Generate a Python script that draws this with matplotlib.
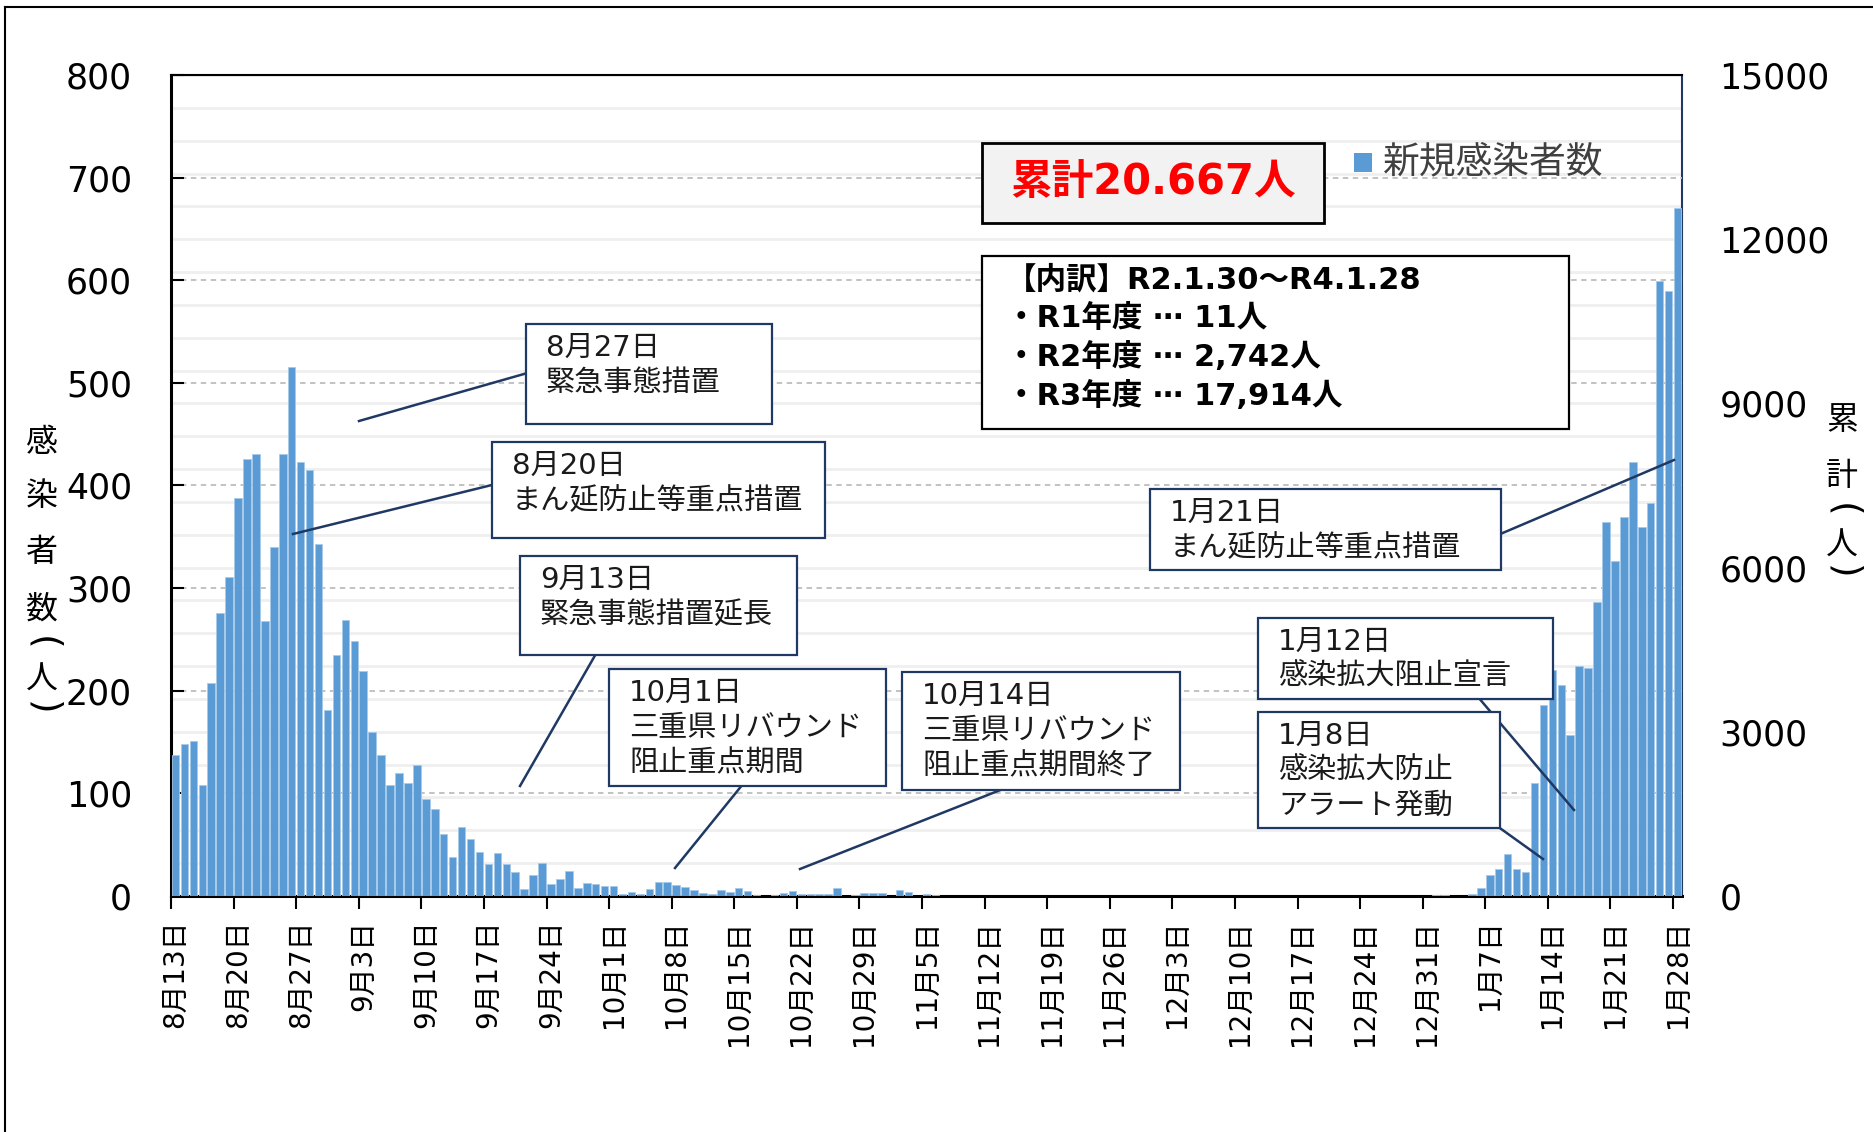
import matplotlib.pyplot as plt
import numpy as np
import pandas as pd
from matplotlib.patches import Rectangle
from matplotlib.lines import Line2D
from matplotlib.ticker import MultipleLocator

plt.rcParams['font.family'] = ['DejaVu Sans', 'Noto Sans CJK JP']

# 新規感染者数 (daily), 2021-08-13 .. 2022-01-28
aug = [137, 148, 151, 108, 208, 276, 311, 388, 426, 431, 268, 340, 431, 515,
       423, 415, 343, 181, 235]
sep = [269, 248, 219, 160, 137, 108, 120, 110, 128, 95, 85, 60, 38, 67, 56,
       43, 31, 42, 31, 23, 7, 20, 32, 12, 17, 24, 8, 13, 12, 10]
octo = [10, 2, 4, 2, 7, 14, 14, 11, 9, 6, 3, 2, 6, 4, 8, 5, 1, 0, 1, 3, 5,
        2, 2, 2, 2, 8, 0, 1, 3, 3, 3]
nov = [0, 6, 4, 0, 2, 1, 0, 0, 0, 0, 0, 0, 0, 0, 0, 0, 0, 0, 0, 0, 0, 0, 0,
       0, 0, 0, 0, 0, 0, 0]
dec = [0, 0, 0, 0, 0, 0, 0, 0, 0, 0, 0, 0, 0, 0, 0, 0, 0, 0, 0, 0, 0, 0, 0,
       0, 0, 0, 0, 0, 0, 0, 0]
jan = [1, 1, 0, 0, 2, 8, 20, 26, 41, 26, 23, 110, 186, 220, 206, 157, 224,
       222, 286, 364, 326, 369, 423, 360, 383, 599, 590, 670]

daily = aug + sep + octo + nov + dec + jan
dates = pd.date_range("2021-08-13", "2022-01-28")
labels = [f"{d.month}月{d.day}日" for d in dates[::7]]

left_ticks = list(range(0, 801, 100))
right_ticks = list(range(0, 15001, 3000))

total_text = "累計20.667人"
breakdown = ["【内訳】R2.1.30～R4.1.28",
             "・R1年度 ⋯ 11人",
             "・R2年度 ⋯ 2,742人",
             "・R3年度 ⋯ 17,914人"]
legend_text = "新規感染者数"

# annotation boxes: rect (x0, y0, x1, y1) in px, text lines, leader line
notes = [
    ((526, 324, 772, 424), ["8月27日", "緊急事態措置"], ((359, 421), (538, 370))),
    ((492, 442, 825, 538), ["8月20日", "まん延防止等重点措置"], ((293, 534), (500, 483))),
    ((520, 556, 797, 655), ["9月13日", "緊急事態措置延長"], ((520, 786), (597, 652))),
    ((609, 669, 886, 786), ["10月1日", "三重県リバウンド", "阻止重点期間"], ((675, 868), (743, 784))),
    ((902, 672, 1180, 790), ["10月14日", "三重県リバウンド", "阻止重点期間終了"], ((800, 869), (1008, 787))),
    ((1150, 489, 1501, 570), ["1月21日", "まん延防止等重点措置"], ((1498, 535), (1674, 460))),
    ((1258, 618, 1553, 699), ["1月12日", "感染拡大阻止宣言"], ((1478, 697), (1574, 810))),
    ((1258, 712, 1500, 828), ["1月8日", "感染拡大防止", "アラート発動"], ((1497, 826), (1543, 859))),
]

W, H = 1874, 1132
NAVY = "#1F3864"


def fx(x):
    return x / W


def fy(y):
    return 1 - y / H


fig = plt.figure(figsize=(W / 100, H / 100), dpi=100)
ax = fig.add_axes([fx(171), fy(896), (1682 - 171) / W, (896 - 75) / H])
ax2 = ax.twinx()
ax.set_zorder(2)
ax2.set_zorder(1)
ax.patch.set_visible(False)

x = np.arange(len(daily))
ax.bar(x, daily, width=0.84, color="#5B9BD5", edgecolor="#A8CAEA",
       linewidth=0.6, zorder=3)
ax.set_xlim(-0.5, len(daily) - 0.5)
ax.set_ylim(0, 800)
ax.set_yticks(left_ticks)
ax.yaxis.grid(True, linestyle=(0, (3, 2.5)), color="#BDBDBD", lw=1.3)
ax.set_axisbelow(True)

ax.set_xticks(x[::7])
ax.set_xticklabels(labels, rotation=90, fontsize=20)
ax.set_xticks(x[::7] - 0.5, minor=True)
ax.tick_params(axis="x", which="major", length=0, pad=17)
ax.tick_params(axis="x", which="minor", length=9, width=1.5, direction="out")
ax.tick_params(axis="y", direction="in", length=9.5, width=1.5, pad=28,
               labelsize=25)

ax2.set_ylim(0, 15000)
ax2.set_yticks(right_ticks)
ax2.set_yticklabels([str(v) for v in right_ticks])
ax2.yaxis.set_minor_locator(MultipleLocator(600))
ax2.grid(which="both", axis="y", color="#EFEFEF", lw=2)
ax2.tick_params(axis="y", which="both", length=0, labelsize=25, pad=27)

for s in ["left", "bottom"]:
    ax.spines[s].set_linewidth(2.2)
ax.spines["top"].set_linewidth(1.5)
ax.spines["right"].set_visible(False)
for s in ["left", "top", "bottom"]:
    ax2.spines[s].set_visible(False)
ax2.spines["right"].set_color(NAVY)
ax2.spines["right"].set_linewidth(1.5)

# axis titles, stacked vertically
for ch, y in zip(["感", "染", "者", "数", "(", "人", ")"],
                 [443, 497, 552, 610, 643, 680, 708]):
    paren = ch in "()"
    fig.text(fx(42), fy(y), ch, fontsize=27 if paren else 23, ha="center",
             va="center", rotation=-90 if paren else 0)
for ch, y in zip(["累", "計", "(", "人", ")"], [421, 477, 510, 546, 572]):
    paren = ch in "()"
    fig.text(fx(1842), fy(y), ch, fontsize=27 if paren else 23, ha="center",
             va="center", rotation=-90 if paren else 0)

# annotations
for (x0, y0, x1, y1), lines, ((ax_, ay), (bx, by)) in notes:
    fig.add_artist(Line2D([fx(ax_), fx(bx)], [fy(ay), fy(by)], color=NAVY,
                          lw=1.8, zorder=4))
    fig.add_artist(Rectangle((fx(x0), fy(y1)), (x1 - x0) / W, (y1 - y0) / H,
                             transform=fig.transFigure, facecolor="white",
                             edgecolor=NAVY, lw=1.6, zorder=5))
    for i, t in enumerate(lines):
        fig.text(fx(x0 + 20), fy(y0 + 24 + 35 * i), t, fontsize=21,
                 ha="left", va="center", color="#1a1a1a", zorder=6)

# total box
fig.add_artist(Rectangle((fx(982), fy(223)), (1324 - 982) / W, (223 - 143) / H,
                         transform=fig.transFigure, facecolor="#F2F2F2",
                         edgecolor="black", lw=2, zorder=5))
fig.text(fx(1153), fy(182), total_text, fontsize=30, fontweight="bold",
         color="#FF0000", ha="center", va="center", zorder=6)

# breakdown box
fig.add_artist(Rectangle((fx(982), fy(429)), (1569 - 982) / W, (429 - 256) / H,
                         transform=fig.transFigure, facecolor="white",
                         edgecolor="black", lw=1.6, zorder=5))
for i, t in enumerate(breakdown):
    fig.text(fx(1006), fy(280 + 38.5 * i), t, fontsize=22, fontweight="bold",
             ha="left", va="center", color="black", zorder=6)

# legend
fig.add_artist(Rectangle((fx(1354), fy(172)), 18 / W, 19 / H,
                         transform=fig.transFigure, facecolor="#5B9BD5",
                         edgecolor="none", zorder=5))
fig.text(fx(1383), fy(162), legend_text, fontsize=26.5, ha="left",
         va="center", color="#404040", zorder=6)

# chart frame
fig.add_artist(Line2D([fx(5), fx(5)], [0, fy(7)], color="black", lw=1.5))
fig.add_artist(Line2D([fx(5), 1], [fy(7), fy(7)], color="black", lw=1.5))

fig.savefig("out.png", dpi=100)
